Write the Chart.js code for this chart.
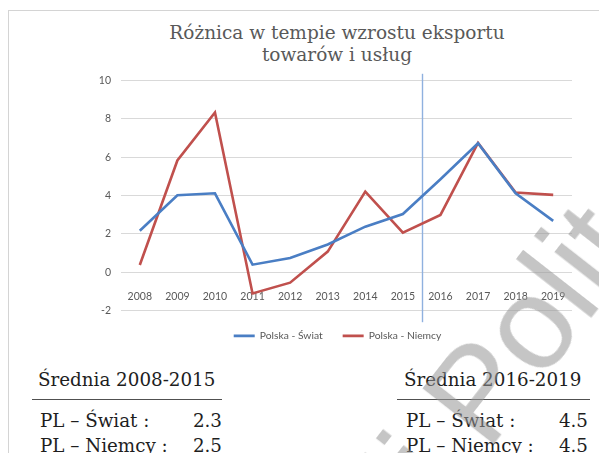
<!DOCTYPE html>
<html>
<head>
<meta charset="utf-8">
<script src="https://cdn.jsdelivr.net/npm/chart.js@4.4.1/dist/chart.umd.min.js"></script>
<style>
html,body{margin:0;padding:0;width:599px;height:453px;overflow:hidden;background:#fff;}
#frame{position:absolute;left:8px;top:10px;width:700px;height:500px;border-left:1px solid #d4d4d4;border-top:1px solid #d4d4d4;}
#wrap{position:absolute;left:0;top:0;width:674px;height:351px;}
.ttl{position:absolute;left:0;width:674px;text-align:center;font-family:'DejaVu Serif';font-size:18.5px;color:#595959;line-height:22px;white-space:nowrap;}
.txt{position:absolute;font-family:'DejaVu Serif';font-size:18.3px;color:#1e1e1e;line-height:24px;white-space:nowrap;}
.rule{position:absolute;height:0;border-top:1.5px solid #505050;}
#wm{position:absolute;left:0;top:0;font-family:'Liberation Sans';font-size:132px;color:rgba(150,150,150,0.55);white-space:nowrap;transform-origin:0 0;line-height:1;}
</style>
</head>
<body>
<div id="frame"></div>
<div class="ttl" style="top:22px">Różnica w tempie wzrostu eksportu</div>
<div class="ttl" style="top:44px">towarów i usług</div>
<div id="wrap"><canvas id="c" width="674" height="351"></canvas></div>
<div id="tables"></div>
<div id="wm">tii Polit</div>
<script>
// ---- data ----
const years = ['2008','2009','2010','2011','2012','2013','2014','2015','2016','2017','2018','2019'];
const plSwiat  = [2.17, 4.02, 4.12, 0.40, 0.75, 1.45, 2.38, 3.04, 4.85, 6.73, 4.12, 2.68];
const plNiemcy = [0.38, 5.83, 8.33, -1.10, -0.54, 1.08, 4.21, 2.07, 2.99, 6.75, 4.16, 4.04];
const seriesNames = ['Polska - Świat', 'Polska - Niemcy'];
const yTicks = [-2, 0, 2, 4, 6, 8, 10];
const dividerAfterIndex = 7; // line between 2015 and 2016

const periods = ['Średnia 2008-2015', 'Średnia 2016-2019'];
const rowLabels = ['PL – Świat :', 'PL – Niemcy :'];
const avg1 = ['2.3', '2.5'];
const avg2 = ['4.5', '4.5'];

// ---- tables ----
const tables = document.getElementById('tables');
function addBlock(title, vals, left, right, ruleLeft, ruleRight){
  const t = document.createElement('div'); t.className='txt'; t.textContent=title;
  t.style.left=left+'px'; t.style.top='368px'; tables.appendChild(t);
  const r = document.createElement('div'); r.className='rule';
  r.style.left=ruleLeft+'px'; r.style.width=(ruleRight-ruleLeft)+'px'; r.style.top='399px'; tables.appendChild(r);
  rowLabels.forEach((lab,i)=>{
    const a=document.createElement('div'); a.className='txt'; a.textContent=lab;
    a.style.left=(left+2)+'px'; a.style.top=(409+i*24.5)+'px'; tables.appendChild(a);
    const b=document.createElement('div'); b.className='txt'; b.textContent=vals[i];
    b.style.right=(599-right)+'px'; b.style.top=(409+i*24.5)+'px'; tables.appendChild(b);
  });
}
addBlock(periods[0], avg1, 38, 222, 32, 222);
addBlock(periods[1], avg2, 404, 588, 397, 590);

// watermark
document.getElementById('wm').style.transform = 'translate(318px, 488px) rotate(-52deg)';

// ---- chart ----
const dividerPlugin = {
  id: 'divider',
  beforeDatasetsDraw(chart){
    const xs = chart.scales.x, ys = chart.scales.y, ctx = chart.ctx;
    const px = Math.round((xs.getPixelForValue(dividerAfterIndex) + xs.getPixelForValue(dividerAfterIndex+1)) / 2) + 0.5;
    ctx.save();
    ctx.strokeStyle = '#8fb1df';
    ctx.lineWidth = 1.4;
    ctx.beginPath();
    ctx.moveTo(px, ys.getPixelForValue(10.35));
    ctx.lineTo(px, ys.getPixelForValue(-2.6));
    ctx.stroke();
    ctx.restore();
  }
};

new Chart(document.getElementById('c'), {
  type: 'line',
  data: {
    labels: years,
    datasets: [
      { label: seriesNames[0], data: plSwiat, borderColor: '#4a7ec4', backgroundColor: '#4a7ec4', borderWidth: 2.6, pointRadius: 0, tension: 0 },
      { label: seriesNames[1], data: plNiemcy, borderColor: '#c0504d', backgroundColor: '#c0504d', borderWidth: 2.6, pointRadius: 0, tension: 0 }
    ]
  },
  options: {
    responsive: false,
    animation: false,
    devicePixelRatio: 1,
    layout: { padding: { left: 103, right: 102, top: 80.5, bottom: 0 } },
    plugins: {
      title: { display: false },
      tooltip: { enabled: false },
      legend: {
        position: 'bottom',
        labels: {
          usePointStyle: true, pointStyle: 'line', pointStyleWidth: 21,
          padding: 20, color: '#595959',
          font: { family: 'Lato', size: 10.3 }
        }
      }
    },
    scales: {
      x: {
        position: { y: 0 },
        offset: true,
        grid: { display: false },
        border: { display: false },
        ticks: { color: '#595959', font: { family: 'Lato', size: 10.5 }, padding: 10, maxRotation: 0, autoSkip: false }
      },
      y: {
        min: -2, max: 10,
        afterFit(scale){ scale.width = 18; scale._computeLabelArea = () => undefined; },
        afterBuildTicks(scale){ scale.ticks = yTicks.map(v => ({ value: v })); },
        grid: { color: '#d9d9d9', lineWidth: 1, drawTicks: false },
        border: { display: false },
        ticks: { color: '#595959', font: { family: 'Lato', size: 10.5 }, padding: 10 }
      }
    }
  },
  plugins: [dividerPlugin]
});
</script>
</body>
</html>
